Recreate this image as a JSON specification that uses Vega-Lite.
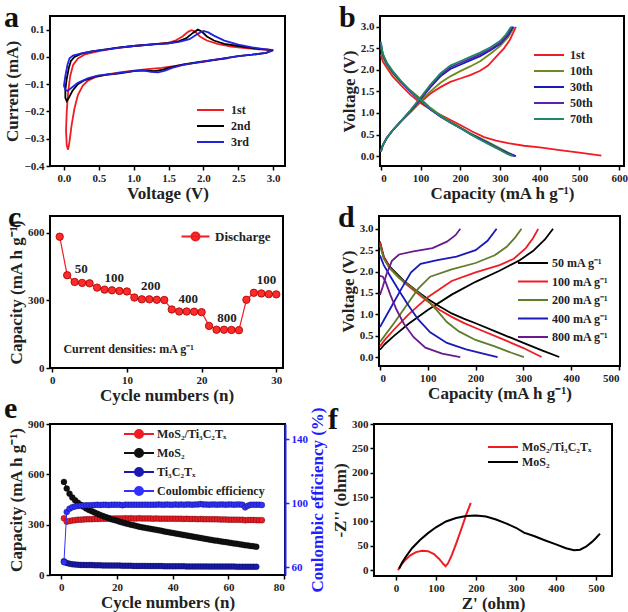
{
"$schema":"https://vega.github.io/schema/vega-lite/v6.json",
"padding":{"left":2,"top":2,"right":0,"bottom":0},
"background":"white",
"config":{
 "view":{"stroke":"black","strokeWidth":2},
 "font":"Liberation Serif",
 "axis":{"grid":false,"domain":false,"labelOverlap":false,"labelFont":"Liberation Serif","labelFontWeight":"bold","labelFontSize":11,"labelColor":"#222","titleFont":"Liberation Serif","titleFontWeight":"bold","titleFontSize":17,"titleColor":"#222","tickColor":"black","tickWidth":1.5,"tickSize":4,"labelPadding":2,"titlePadding":2},
 "legend":{"labelFont":"Liberation Serif","labelFontWeight":"bold","labelFontSize":12,"labelColor":"#222","symbolStrokeWidth":2,"rowPadding":4,"labelOffset":23,"symbolType":"M-1,0L5,0","symbolSize":100},
 "title":{"anchor":"start","frame":"group","baseline":"top","offset":-17,"fontSize":30,"font":"Liberation Serif","fontWeight":"bold","color":"#111"}
},
"resolve":{"scale":{"color":"independent"},"legend":{"color":"independent"}},
"datasets":{
 "a":[
{"s":"1st","i":1,"x":2.35,"y":-0.005},{"s":"1st","i":2,"x":2.2,"y":-0.01},{"s":"1st","i":3,"x":2.0,"y":-0.018},{"s":"1st","i":4,"x":1.8,"y":-0.025},{"s":"1st","i":5,"x":1.6,"y":-0.033},{"s":"1st","i":6,"x":1.4,"y":-0.04},{"s":"1st","i":7,"x":1.2,"y":-0.045},{"s":"1st","i":8,"x":1.0,"y":-0.05},{"s":"1st","i":9,"x":0.8,"y":-0.057},{"s":"1st","i":10,"x":0.6,"y":-0.065},{"s":"1st","i":11,"x":0.45,"y":-0.074},{"s":"1st","i":12,"x":0.35,"y":-0.086},{"s":"1st","i":13,"x":0.27,"y":-0.105},{"s":"1st","i":14,"x":0.2,"y":-0.14},{"s":"1st","i":15,"x":0.15,"y":-0.19},{"s":"1st","i":16,"x":0.11,"y":-0.25},{"s":"1st","i":17,"x":0.08,"y":-0.31},{"s":"1st","i":18,"x":0.06,"y":-0.34},{"s":"1st","i":19,"x":0.04,"y":-0.325},{"s":"1st","i":20,"x":0.03,"y":-0.27},{"s":"1st","i":21,"x":0.04,"y":-0.2},{"s":"1st","i":22,"x":0.06,"y":-0.13},{"s":"1st","i":23,"x":0.09,"y":-0.07},{"s":"1st","i":24,"x":0.13,"y":-0.03},{"s":"1st","i":25,"x":0.2,"y":-0.006},{"s":"1st","i":26,"x":0.3,"y":0.009},{"s":"1st","i":27,"x":0.5,"y":0.021},{"s":"1st","i":28,"x":0.7,"y":0.03},{"s":"1st","i":29,"x":1.0,"y":0.04},{"s":"1st","i":30,"x":1.3,"y":0.047},{"s":"1st","i":31,"x":1.5,"y":0.052},{"s":"1st","i":32,"x":1.6,"y":0.06},{"s":"1st","i":33,"x":1.7,"y":0.075},{"s":"1st","i":34,"x":1.78,"y":0.092},{"s":"1st","i":35,"x":1.83,"y":0.098},{"s":"1st","i":36,"x":1.88,"y":0.093},{"s":"1st","i":37,"x":1.95,"y":0.075},{"s":"1st","i":38,"x":2.05,"y":0.06},{"s":"1st","i":39,"x":2.2,"y":0.048},{"s":"1st","i":40,"x":2.4,"y":0.038},{"s":"1st","i":41,"x":2.6,"y":0.032},{"s":"1st","i":42,"x":2.8,"y":0.028},{"s":"1st","i":43,"x":3.0,"y":0.026},
{"s":"2nd","i":1,"x":3.0,"y":0.025},{"s":"2nd","i":2,"x":2.9,"y":0.015},{"s":"2nd","i":3,"x":2.7,"y":0.008},{"s":"2nd","i":4,"x":2.5,"y":0.003},{"s":"2nd","i":5,"x":2.3,"y":-0.005},{"s":"2nd","i":6,"x":2.1,"y":-0.013},{"s":"2nd","i":7,"x":1.9,"y":-0.02},{"s":"2nd","i":8,"x":1.7,"y":-0.028},{"s":"2nd","i":9,"x":1.5,"y":-0.04},{"s":"2nd","i":10,"x":1.4,"y":-0.048},{"s":"2nd","i":11,"x":1.3,"y":-0.052},{"s":"2nd","i":12,"x":1.2,"y":-0.05},{"s":"2nd","i":13,"x":1.1,"y":-0.05},{"s":"2nd","i":14,"x":1.0,"y":-0.052},{"s":"2nd","i":15,"x":0.8,"y":-0.06},{"s":"2nd","i":16,"x":0.6,"y":-0.066},{"s":"2nd","i":17,"x":0.45,"y":-0.072},{"s":"2nd","i":18,"x":0.3,"y":-0.085},{"s":"2nd","i":19,"x":0.2,"y":-0.1},{"s":"2nd","i":20,"x":0.12,"y":-0.125},{"s":"2nd","i":21,"x":0.07,"y":-0.15},{"s":"2nd","i":22,"x":0.04,"y":-0.162},{"s":"2nd","i":23,"x":0.02,"y":-0.15},{"s":"2nd","i":24,"x":0.02,"y":-0.12},{"s":"2nd","i":25,"x":0.04,"y":-0.08},{"s":"2nd","i":26,"x":0.07,"y":-0.04},{"s":"2nd","i":27,"x":0.1,"y":-0.015},{"s":"2nd","i":28,"x":0.15,"y":0.0},{"s":"2nd","i":29,"x":0.25,"y":0.012},{"s":"2nd","i":30,"x":0.4,"y":0.02},{"s":"2nd","i":31,"x":0.6,"y":0.028},{"s":"2nd","i":32,"x":0.8,"y":0.035},{"s":"2nd","i":33,"x":1.0,"y":0.04},{"s":"2nd","i":34,"x":1.3,"y":0.047},{"s":"2nd","i":35,"x":1.5,"y":0.05},{"s":"2nd","i":36,"x":1.65,"y":0.058},{"s":"2nd","i":37,"x":1.75,"y":0.068},{"s":"2nd","i":38,"x":1.85,"y":0.088},{"s":"2nd","i":39,"x":1.92,"y":0.1},{"s":"2nd","i":40,"x":1.98,"y":0.092},{"s":"2nd","i":41,"x":2.05,"y":0.075},{"s":"2nd","i":42,"x":2.15,"y":0.06},{"s":"2nd","i":43,"x":2.3,"y":0.048},{"s":"2nd","i":44,"x":2.5,"y":0.04},{"s":"2nd","i":45,"x":2.7,"y":0.032},{"s":"2nd","i":46,"x":2.9,"y":0.027},{"s":"2nd","i":47,"x":3.0,"y":0.025},
{"s":"3rd","i":1,"x":3.0,"y":0.025},{"s":"3rd","i":2,"x":2.9,"y":0.015},{"s":"3rd","i":3,"x":2.7,"y":0.008},{"s":"3rd","i":4,"x":2.5,"y":0.003},{"s":"3rd","i":5,"x":2.3,"y":-0.005},{"s":"3rd","i":6,"x":2.1,"y":-0.013},{"s":"3rd","i":7,"x":1.9,"y":-0.021},{"s":"3rd","i":8,"x":1.7,"y":-0.03},{"s":"3rd","i":9,"x":1.55,"y":-0.04},{"s":"3rd","i":10,"x":1.45,"y":-0.05},{"s":"3rd","i":11,"x":1.35,"y":-0.057},{"s":"3rd","i":12,"x":1.25,"y":-0.055},{"s":"3rd","i":13,"x":1.15,"y":-0.05},{"s":"3rd","i":14,"x":1.05,"y":-0.05},{"s":"3rd","i":15,"x":0.9,"y":-0.055},{"s":"3rd","i":16,"x":0.7,"y":-0.062},{"s":"3rd","i":17,"x":0.5,"y":-0.068},{"s":"3rd","i":18,"x":0.35,"y":-0.078},{"s":"3rd","i":19,"x":0.2,"y":-0.095},{"s":"3rd","i":20,"x":0.1,"y":-0.115},{"s":"3rd","i":21,"x":0.05,"y":-0.125},{"s":"3rd","i":22,"x":0.02,"y":-0.12},{"s":"3rd","i":23,"x":0.0,"y":-0.105},{"s":"3rd","i":24,"x":0.02,"y":-0.07},{"s":"3rd","i":25,"x":0.05,"y":-0.03},{"s":"3rd","i":26,"x":0.08,"y":-0.005},{"s":"3rd","i":27,"x":0.13,"y":0.005},{"s":"3rd","i":28,"x":0.25,"y":0.013},{"s":"3rd","i":29,"x":0.4,"y":0.02},{"s":"3rd","i":30,"x":0.6,"y":0.027},{"s":"3rd","i":31,"x":0.8,"y":0.034},{"s":"3rd","i":32,"x":1.0,"y":0.04},{"s":"3rd","i":33,"x":1.3,"y":0.046},{"s":"3rd","i":34,"x":1.5,"y":0.05},{"s":"3rd","i":35,"x":1.65,"y":0.055},{"s":"3rd","i":36,"x":1.8,"y":0.065},{"s":"3rd","i":37,"x":1.92,"y":0.085},{"s":"3rd","i":38,"x":2.0,"y":0.095},{"s":"3rd","i":39,"x":2.07,"y":0.09},{"s":"3rd","i":40,"x":2.15,"y":0.078},{"s":"3rd","i":41,"x":2.3,"y":0.06},{"s":"3rd","i":42,"x":2.5,"y":0.045},{"s":"3rd","i":43,"x":2.7,"y":0.035},{"s":"3rd","i":44,"x":2.9,"y":0.028},{"s":"3rd","i":45,"x":3.0,"y":0.025}
 ],
 "b":[
{"s":"1st","g":"d","i":1,"x":0,"y":2.35},{"s":"1st","g":"d","i":2,"x":5,"y":2.2},{"s":"1st","g":"d","i":3,"x":15,"y":2.05},{"s":"1st","g":"d","i":4,"x":30,"y":1.85},{"s":"1st","g":"d","i":5,"x":50,"y":1.65},{"s":"1st","g":"d","i":6,"x":75,"y":1.42},{"s":"1st","g":"d","i":7,"x":100,"y":1.23},{"s":"1st","g":"d","i":8,"x":130,"y":1.05},{"s":"1st","g":"d","i":9,"x":160,"y":0.91},{"s":"1st","g":"d","i":10,"x":200,"y":0.72},{"s":"1st","g":"d","i":11,"x":230,"y":0.57},{"s":"1st","g":"d","i":12,"x":260,"y":0.44},{"s":"1st","g":"d","i":13,"x":290,"y":0.36},{"s":"1st","g":"d","i":14,"x":320,"y":0.3},{"s":"1st","g":"d","i":15,"x":360,"y":0.24},{"s":"1st","g":"d","i":16,"x":400,"y":0.2},{"s":"1st","g":"d","i":17,"x":450,"y":0.14},{"s":"1st","g":"d","i":18,"x":500,"y":0.08},{"s":"1st","g":"d","i":19,"x":555,"y":0.01},
{"s":"1st","g":"c","i":1,"x":0,"y":0.1},{"s":"1st","g":"c","i":2,"x":5,"y":0.25},{"s":"1st","g":"c","i":3,"x":15,"y":0.42},{"s":"1st","g":"c","i":4,"x":30,"y":0.6},{"s":"1st","g":"c","i":5,"x":50,"y":0.8},{"s":"1st","g":"c","i":6,"x":75,"y":1.02},{"s":"1st","g":"c","i":7,"x":100,"y":1.25},{"s":"1st","g":"c","i":8,"x":125,"y":1.45},{"s":"1st","g":"c","i":9,"x":150,"y":1.6},{"s":"1st","g":"c","i":10,"x":175,"y":1.72},{"s":"1st","g":"c","i":11,"x":200,"y":1.8},{"s":"1st","g":"c","i":12,"x":225,"y":1.88},{"s":"1st","g":"c","i":13,"x":250,"y":1.98},{"s":"1st","g":"c","i":14,"x":270,"y":2.1},{"s":"1st","g":"c","i":15,"x":290,"y":2.3},{"s":"1st","g":"c","i":16,"x":310,"y":2.5},{"s":"1st","g":"c","i":17,"x":325,"y":2.7},{"s":"1st","g":"c","i":18,"x":340,"y":3.0},
{"s":"10th","g":"d","i":1,"x":0,"y":2.55},{"s":"10th","g":"d","i":2,"x":5,"y":2.3},{"s":"10th","g":"d","i":3,"x":15,"y":2.1},{"s":"10th","g":"d","i":4,"x":30,"y":1.92},{"s":"10th","g":"d","i":5,"x":50,"y":1.72},{"s":"10th","g":"d","i":6,"x":75,"y":1.52},{"s":"10th","g":"d","i":7,"x":100,"y":1.33},{"s":"10th","g":"d","i":8,"x":125,"y":1.12},{"s":"10th","g":"d","i":9,"x":150,"y":0.95},{"s":"10th","g":"d","i":10,"x":175,"y":0.8},{"s":"10th","g":"d","i":11,"x":200,"y":0.67},{"s":"10th","g":"d","i":12,"x":225,"y":0.53},{"s":"10th","g":"d","i":13,"x":250,"y":0.42},{"s":"10th","g":"d","i":14,"x":275,"y":0.3},{"s":"10th","g":"d","i":15,"x":300,"y":0.18},{"s":"10th","g":"d","i":16,"x":320,"y":0.08},{"s":"10th","g":"d","i":17,"x":338,"y":0.0},
{"s":"10th","g":"c","i":1,"x":0,"y":0.1},{"s":"10th","g":"c","i":2,"x":5,"y":0.25},{"s":"10th","g":"c","i":3,"x":15,"y":0.42},{"s":"10th","g":"c","i":4,"x":30,"y":0.6},{"s":"10th","g":"c","i":5,"x":50,"y":0.8},{"s":"10th","g":"c","i":6,"x":75,"y":1.03},{"s":"10th","g":"c","i":7,"x":100,"y":1.28},{"s":"10th","g":"c","i":8,"x":125,"y":1.5},{"s":"10th","g":"c","i":9,"x":150,"y":1.7},{"s":"10th","g":"c","i":10,"x":175,"y":1.85},{"s":"10th","g":"c","i":11,"x":200,"y":1.97},{"s":"10th","g":"c","i":12,"x":225,"y":2.08},{"s":"10th","g":"c","i":13,"x":250,"y":2.2},{"s":"10th","g":"c","i":14,"x":275,"y":2.37},{"s":"10th","g":"c","i":15,"x":300,"y":2.55},{"s":"10th","g":"c","i":16,"x":320,"y":2.75},{"s":"10th","g":"c","i":17,"x":336,"y":3.0},
{"s":"30th","g":"d","i":1,"x":0,"y":2.6},{"s":"30th","g":"d","i":2,"x":5,"y":2.35},{"s":"30th","g":"d","i":3,"x":15,"y":2.15},{"s":"30th","g":"d","i":4,"x":30,"y":1.95},{"s":"30th","g":"d","i":5,"x":50,"y":1.73},{"s":"30th","g":"d","i":6,"x":75,"y":1.49},{"s":"30th","g":"d","i":7,"x":100,"y":1.28},{"s":"30th","g":"d","i":8,"x":125,"y":1.08},{"s":"30th","g":"d","i":9,"x":150,"y":0.92},{"s":"30th","g":"d","i":10,"x":175,"y":0.78},{"s":"30th","g":"d","i":11,"x":200,"y":0.65},{"s":"30th","g":"d","i":12,"x":225,"y":0.52},{"s":"30th","g":"d","i":13,"x":250,"y":0.4},{"s":"30th","g":"d","i":14,"x":275,"y":0.28},{"s":"30th","g":"d","i":15,"x":300,"y":0.16},{"s":"30th","g":"d","i":16,"x":320,"y":0.07},{"s":"30th","g":"d","i":17,"x":340,"y":0.0},
{"s":"30th","g":"c","i":1,"x":0,"y":0.1},{"s":"30th","g":"c","i":2,"x":5,"y":0.25},{"s":"30th","g":"c","i":3,"x":15,"y":0.42},{"s":"30th","g":"c","i":4,"x":30,"y":0.6},{"s":"30th","g":"c","i":5,"x":50,"y":0.8},{"s":"30th","g":"c","i":6,"x":75,"y":1.05},{"s":"30th","g":"c","i":7,"x":100,"y":1.32},{"s":"30th","g":"c","i":8,"x":125,"y":1.6},{"s":"30th","g":"c","i":9,"x":150,"y":1.85},{"s":"30th","g":"c","i":10,"x":175,"y":2.02},{"s":"30th","g":"c","i":11,"x":200,"y":2.12},{"s":"30th","g":"c","i":12,"x":225,"y":2.22},{"s":"30th","g":"c","i":13,"x":250,"y":2.32},{"s":"30th","g":"c","i":14,"x":275,"y":2.45},{"s":"30th","g":"c","i":15,"x":300,"y":2.6},{"s":"30th","g":"c","i":16,"x":320,"y":2.8},{"s":"30th","g":"c","i":17,"x":333,"y":3.0},
{"s":"50th","g":"d","i":1,"x":0,"y":2.62},{"s":"50th","g":"d","i":2,"x":5,"y":2.36},{"s":"50th","g":"d","i":3,"x":15,"y":2.16},{"s":"50th","g":"d","i":4,"x":30,"y":1.96},{"s":"50th","g":"d","i":5,"x":50,"y":1.74},{"s":"50th","g":"d","i":6,"x":75,"y":1.5},{"s":"50th","g":"d","i":7,"x":100,"y":1.29},{"s":"50th","g":"d","i":8,"x":125,"y":1.09},{"s":"50th","g":"d","i":9,"x":150,"y":0.92},{"s":"50th","g":"d","i":10,"x":175,"y":0.78},{"s":"50th","g":"d","i":11,"x":200,"y":0.65},{"s":"50th","g":"d","i":12,"x":225,"y":0.52},{"s":"50th","g":"d","i":13,"x":250,"y":0.39},{"s":"50th","g":"d","i":14,"x":275,"y":0.27},{"s":"50th","g":"d","i":15,"x":300,"y":0.15},{"s":"50th","g":"d","i":16,"x":320,"y":0.06},{"s":"50th","g":"d","i":17,"x":337,"y":0.0},
{"s":"50th","g":"c","i":1,"x":0,"y":0.1},{"s":"50th","g":"c","i":2,"x":5,"y":0.25},{"s":"50th","g":"c","i":3,"x":15,"y":0.42},{"s":"50th","g":"c","i":4,"x":30,"y":0.6},{"s":"50th","g":"c","i":5,"x":50,"y":0.8},{"s":"50th","g":"c","i":6,"x":75,"y":1.06},{"s":"50th","g":"c","i":7,"x":100,"y":1.34},{"s":"50th","g":"c","i":8,"x":125,"y":1.63},{"s":"50th","g":"c","i":9,"x":150,"y":1.88},{"s":"50th","g":"c","i":10,"x":175,"y":2.06},{"s":"50th","g":"c","i":11,"x":200,"y":2.16},{"s":"50th","g":"c","i":12,"x":225,"y":2.26},{"s":"50th","g":"c","i":13,"x":250,"y":2.36},{"s":"50th","g":"c","i":14,"x":275,"y":2.48},{"s":"50th","g":"c","i":15,"x":300,"y":2.63},{"s":"50th","g":"c","i":16,"x":318,"y":2.8},{"s":"50th","g":"c","i":17,"x":330,"y":3.0},
{"s":"70th","g":"d","i":1,"x":0,"y":2.65},{"s":"70th","g":"d","i":2,"x":5,"y":2.38},{"s":"70th","g":"d","i":3,"x":15,"y":2.17},{"s":"70th","g":"d","i":4,"x":30,"y":1.97},{"s":"70th","g":"d","i":5,"x":50,"y":1.75},{"s":"70th","g":"d","i":6,"x":75,"y":1.51},{"s":"70th","g":"d","i":7,"x":100,"y":1.3},{"s":"70th","g":"d","i":8,"x":125,"y":1.1},{"s":"70th","g":"d","i":9,"x":150,"y":0.93},{"s":"70th","g":"d","i":10,"x":175,"y":0.78},{"s":"70th","g":"d","i":11,"x":200,"y":0.65},{"s":"70th","g":"d","i":12,"x":225,"y":0.51},{"s":"70th","g":"d","i":13,"x":250,"y":0.38},{"s":"70th","g":"d","i":14,"x":275,"y":0.26},{"s":"70th","g":"d","i":15,"x":300,"y":0.14},{"s":"70th","g":"d","i":16,"x":318,"y":0.05},{"s":"70th","g":"d","i":17,"x":332,"y":0.0},
{"s":"70th","g":"c","i":1,"x":0,"y":0.1},{"s":"70th","g":"c","i":2,"x":5,"y":0.25},{"s":"70th","g":"c","i":3,"x":15,"y":0.42},{"s":"70th","g":"c","i":4,"x":30,"y":0.6},{"s":"70th","g":"c","i":5,"x":50,"y":0.8},{"s":"70th","g":"c","i":6,"x":75,"y":1.07},{"s":"70th","g":"c","i":7,"x":100,"y":1.36},{"s":"70th","g":"c","i":8,"x":125,"y":1.66},{"s":"70th","g":"c","i":9,"x":150,"y":1.92},{"s":"70th","g":"c","i":10,"x":175,"y":2.1},{"s":"70th","g":"c","i":11,"x":200,"y":2.2},{"s":"70th","g":"c","i":12,"x":225,"y":2.3},{"s":"70th","g":"c","i":13,"x":250,"y":2.4},{"s":"70th","g":"c","i":14,"x":275,"y":2.52},{"s":"70th","g":"c","i":15,"x":300,"y":2.67},{"s":"70th","g":"c","i":16,"x":315,"y":2.82},{"s":"70th","g":"c","i":17,"x":328,"y":3.0}
 ],
 "c":[
{"n":1,"y":583},{"n":2,"y":412},{"n":3,"y":382},{"n":4,"y":378},{"n":5,"y":376},{"n":6,"y":357},{"n":7,"y":348},{"n":8,"y":345},{"n":9,"y":342},{"n":10,"y":340},{"n":11,"y":313},{"n":12,"y":305},{"n":13,"y":305},{"n":14,"y":303},{"n":15,"y":302},{"n":16,"y":260},{"n":17,"y":251},{"n":18,"y":251},{"n":19,"y":250},{"n":20,"y":248},{"n":21,"y":187},{"n":22,"y":170},{"n":23,"y":170},{"n":24,"y":169},{"n":25,"y":168},{"n":26,"y":303},{"n":27,"y":334},{"n":28,"y":331},{"n":29,"y":328},{"n":30,"y":327}
 ],
 "cl":[
{"n":3.9,"y":440,"t":"50"},{"n":8.3,"y":400,"t":"100"},{"n":13.2,"y":362,"t":"200"},{"n":18.2,"y":305,"t":"400"},{"n":23.4,"y":222,"t":"800"},{"n":28.7,"y":390,"t":"100"}
 ],
 "cn":[{"n":1.5,"y":84,"t":"Current densities: mA g⁻¹"}],
 "d":[
{"s":"50 mA g⁻¹","g":"d","i":1,"x":0,"y":2.7},{"s":"50 mA g⁻¹","g":"d","i":2,"x":8,"y":2.35},{"s":"50 mA g⁻¹","g":"d","i":3,"x":20,"y":2.12},{"s":"50 mA g⁻¹","g":"d","i":4,"x":50,"y":1.78},{"s":"50 mA g⁻¹","g":"d","i":5,"x":80,"y":1.52},{"s":"50 mA g⁻¹","g":"d","i":6,"x":100,"y":1.36},{"s":"50 mA g⁻¹","g":"d","i":7,"x":125,"y":1.18},{"s":"50 mA g⁻¹","g":"d","i":8,"x":150,"y":1.02},{"s":"50 mA g⁻¹","g":"d","i":9,"x":175,"y":0.9},{"s":"50 mA g⁻¹","g":"d","i":10,"x":200,"y":0.79},{"s":"50 mA g⁻¹","g":"d","i":11,"x":250,"y":0.56},{"s":"50 mA g⁻¹","g":"d","i":12,"x":300,"y":0.33},{"s":"50 mA g⁻¹","g":"d","i":13,"x":340,"y":0.15},{"s":"50 mA g⁻¹","g":"d","i":14,"x":375,"y":0.0},
{"s":"50 mA g⁻¹","g":"c","i":1,"x":0,"y":0.17},{"s":"50 mA g⁻¹","g":"c","i":2,"x":10,"y":0.3},{"s":"50 mA g⁻¹","g":"c","i":3,"x":30,"y":0.5},{"s":"50 mA g⁻¹","g":"c","i":4,"x":60,"y":0.78},{"s":"50 mA g⁻¹","g":"c","i":5,"x":100,"y":1.1},{"s":"50 mA g⁻¹","g":"c","i":6,"x":150,"y":1.46},{"s":"50 mA g⁻¹","g":"c","i":7,"x":200,"y":1.76},{"s":"50 mA g⁻¹","g":"c","i":8,"x":250,"y":2.02},{"s":"50 mA g⁻¹","g":"c","i":9,"x":290,"y":2.25},{"s":"50 mA g⁻¹","g":"c","i":10,"x":320,"y":2.48},{"s":"50 mA g⁻¹","g":"c","i":11,"x":345,"y":2.75},{"s":"50 mA g⁻¹","g":"c","i":12,"x":362,"y":3.0},
{"s":"100 mA g⁻¹","g":"d","i":1,"x":0,"y":2.68},{"s":"100 mA g⁻¹","g":"d","i":2,"x":8,"y":2.33},{"s":"100 mA g⁻¹","g":"d","i":3,"x":20,"y":2.1},{"s":"100 mA g⁻¹","g":"d","i":4,"x":50,"y":1.75},{"s":"100 mA g⁻¹","g":"d","i":5,"x":75,"y":1.52},{"s":"100 mA g⁻¹","g":"d","i":6,"x":100,"y":1.3},{"s":"100 mA g⁻¹","g":"d","i":7,"x":125,"y":1.1},{"s":"100 mA g⁻¹","g":"d","i":8,"x":150,"y":0.94},{"s":"100 mA g⁻¹","g":"d","i":9,"x":175,"y":0.8},{"s":"100 mA g⁻¹","g":"d","i":10,"x":200,"y":0.68},{"s":"100 mA g⁻¹","g":"d","i":11,"x":250,"y":0.45},{"s":"100 mA g⁻¹","g":"d","i":12,"x":300,"y":0.21},{"s":"100 mA g⁻¹","g":"d","i":13,"x":320,"y":0.1},{"s":"100 mA g⁻¹","g":"d","i":14,"x":338,"y":0.0},
{"s":"100 mA g⁻¹","g":"c","i":1,"x":0,"y":0.25},{"s":"100 mA g⁻¹","g":"c","i":2,"x":10,"y":0.4},{"s":"100 mA g⁻¹","g":"c","i":3,"x":30,"y":0.65},{"s":"100 mA g⁻¹","g":"c","i":4,"x":60,"y":1.0},{"s":"100 mA g⁻¹","g":"c","i":5,"x":100,"y":1.4},{"s":"100 mA g⁻¹","g":"c","i":6,"x":150,"y":1.78},{"s":"100 mA g⁻¹","g":"c","i":7,"x":200,"y":1.98},{"s":"100 mA g⁻¹","g":"c","i":8,"x":250,"y":2.15},{"s":"100 mA g⁻¹","g":"c","i":9,"x":280,"y":2.3},{"s":"100 mA g⁻¹","g":"c","i":10,"x":305,"y":2.55},{"s":"100 mA g⁻¹","g":"c","i":11,"x":320,"y":2.78},{"s":"100 mA g⁻¹","g":"c","i":12,"x":331,"y":3.0},
{"s":"200 mA g⁻¹","g":"d","i":1,"x":0,"y":2.62},{"s":"200 mA g⁻¹","g":"d","i":2,"x":8,"y":2.3},{"s":"200 mA g⁻¹","g":"d","i":3,"x":20,"y":2.08},{"s":"200 mA g⁻¹","g":"d","i":4,"x":40,"y":1.85},{"s":"200 mA g⁻¹","g":"d","i":5,"x":70,"y":1.6},{"s":"200 mA g⁻¹","g":"d","i":6,"x":100,"y":1.32},{"s":"200 mA g⁻¹","g":"d","i":7,"x":120,"y":1.08},{"s":"200 mA g⁻¹","g":"d","i":8,"x":140,"y":0.82},{"s":"200 mA g⁻¹","g":"d","i":9,"x":165,"y":0.6},{"s":"200 mA g⁻¹","g":"d","i":10,"x":200,"y":0.4},{"s":"200 mA g⁻¹","g":"d","i":11,"x":240,"y":0.25},{"s":"200 mA g⁻¹","g":"d","i":12,"x":275,"y":0.1},{"s":"200 mA g⁻¹","g":"d","i":13,"x":301,"y":0.0},
{"s":"200 mA g⁻¹","g":"c","i":1,"x":0,"y":0.35},{"s":"200 mA g⁻¹","g":"c","i":2,"x":10,"y":0.5},{"s":"200 mA g⁻¹","g":"c","i":3,"x":30,"y":0.8},{"s":"200 mA g⁻¹","g":"c","i":4,"x":55,"y":1.2},{"s":"200 mA g⁻¹","g":"c","i":5,"x":80,"y":1.6},{"s":"200 mA g⁻¹","g":"c","i":6,"x":105,"y":1.88},{"s":"200 mA g⁻¹","g":"c","i":7,"x":150,"y":2.05},{"s":"200 mA g⁻¹","g":"c","i":8,"x":200,"y":2.2},{"s":"200 mA g⁻¹","g":"c","i":9,"x":240,"y":2.38},{"s":"200 mA g⁻¹","g":"c","i":10,"x":265,"y":2.58},{"s":"200 mA g⁻¹","g":"c","i":11,"x":283,"y":2.8},{"s":"200 mA g⁻¹","g":"c","i":12,"x":296,"y":3.0},
{"s":"400 mA g⁻¹","g":"d","i":1,"x":0,"y":2.38},{"s":"400 mA g⁻¹","g":"d","i":2,"x":8,"y":2.15},{"s":"400 mA g⁻¹","g":"d","i":3,"x":20,"y":1.92},{"s":"400 mA g⁻¹","g":"d","i":4,"x":40,"y":1.55},{"s":"400 mA g⁻¹","g":"d","i":5,"x":60,"y":1.2},{"s":"400 mA g⁻¹","g":"d","i":6,"x":80,"y":0.88},{"s":"400 mA g⁻¹","g":"d","i":7,"x":105,"y":0.58},{"s":"400 mA g⁻¹","g":"d","i":8,"x":140,"y":0.33},{"s":"400 mA g⁻¹","g":"d","i":9,"x":180,"y":0.18},{"s":"400 mA g⁻¹","g":"d","i":10,"x":220,"y":0.07},{"s":"400 mA g⁻¹","g":"d","i":11,"x":246,"y":0.0},
{"s":"400 mA g⁻¹","g":"c","i":1,"x":0,"y":0.7},{"s":"400 mA g⁻¹","g":"c","i":2,"x":10,"y":0.9},{"s":"400 mA g⁻¹","g":"c","i":3,"x":25,"y":1.2},{"s":"400 mA g⁻¹","g":"c","i":4,"x":45,"y":1.6},{"s":"400 mA g⁻¹","g":"c","i":5,"x":65,"y":1.98},{"s":"400 mA g⁻¹","g":"c","i":6,"x":85,"y":2.18},{"s":"400 mA g⁻¹","g":"c","i":7,"x":120,"y":2.27},{"s":"400 mA g⁻¹","g":"c","i":8,"x":160,"y":2.35},{"s":"400 mA g⁻¹","g":"c","i":9,"x":200,"y":2.5},{"s":"400 mA g⁻¹","g":"c","i":10,"x":225,"y":2.72},{"s":"400 mA g⁻¹","g":"c","i":11,"x":244,"y":3.0},
{"s":"800 mA g⁻¹","g":"d","i":1,"x":0,"y":1.9},{"s":"800 mA g⁻¹","g":"d","i":2,"x":6,"y":1.88},{"s":"800 mA g⁻¹","g":"d","i":3,"x":12,"y":1.75},{"s":"800 mA g⁻¹","g":"d","i":4,"x":22,"y":1.45},{"s":"800 mA g⁻¹","g":"d","i":5,"x":35,"y":1.1},{"s":"800 mA g⁻¹","g":"d","i":6,"x":50,"y":0.78},{"s":"800 mA g⁻¹","g":"d","i":7,"x":70,"y":0.47},{"s":"800 mA g⁻¹","g":"d","i":8,"x":95,"y":0.22},{"s":"800 mA g⁻¹","g":"d","i":9,"x":130,"y":0.08},{"s":"800 mA g⁻¹","g":"d","i":10,"x":168,"y":0.0},
{"s":"800 mA g⁻¹","g":"c","i":1,"x":0,"y":1.45},{"s":"800 mA g⁻¹","g":"c","i":2,"x":6,"y":1.65},{"s":"800 mA g⁻¹","g":"c","i":3,"x":14,"y":1.95},{"s":"800 mA g⁻¹","g":"c","i":4,"x":25,"y":2.25},{"s":"800 mA g⁻¹","g":"c","i":5,"x":40,"y":2.4},{"s":"800 mA g⁻¹","g":"c","i":6,"x":70,"y":2.47},{"s":"800 mA g⁻¹","g":"c","i":7,"x":110,"y":2.55},{"s":"800 mA g⁻¹","g":"c","i":8,"x":140,"y":2.7},{"s":"800 mA g⁻¹","g":"c","i":9,"x":158,"y":2.85},{"s":"800 mA g⁻¹","g":"c","i":10,"x":168,"y":3.0}
 ],
 "e":[
{"s":"MoS₂/Ti₃C₂Tₓ","n":1,"y":338},{"s":"MoS₂/Ti₃C₂Tₓ","n":2,"y":318},{"s":"MoS₂/Ti₃C₂Tₓ","n":3,"y":322},{"s":"MoS₂/Ti₃C₂Tₓ","n":4,"y":325},{"s":"MoS₂/Ti₃C₂Tₓ","n":5,"y":327},{"s":"MoS₂/Ti₃C₂Tₓ","n":6,"y":329},{"s":"MoS₂/Ti₃C₂Tₓ","n":7,"y":330},{"s":"MoS₂/Ti₃C₂Tₓ","n":8,"y":331},{"s":"MoS₂/Ti₃C₂Tₓ","n":9,"y":332},{"s":"MoS₂/Ti₃C₂Tₓ","n":10,"y":333},{"s":"MoS₂/Ti₃C₂Tₓ","n":11,"y":333},{"s":"MoS₂/Ti₃C₂Tₓ","n":12,"y":334},{"s":"MoS₂/Ti₃C₂Tₓ","n":13,"y":334},{"s":"MoS₂/Ti₃C₂Tₓ","n":14,"y":335},{"s":"MoS₂/Ti₃C₂Tₓ","n":15,"y":335},{"s":"MoS₂/Ti₃C₂Tₓ","n":16,"y":336},{"s":"MoS₂/Ti₃C₂Tₓ","n":17,"y":336},{"s":"MoS₂/Ti₃C₂Tₓ","n":18,"y":336},{"s":"MoS₂/Ti₃C₂Tₓ","n":19,"y":337},{"s":"MoS₂/Ti₃C₂Tₓ","n":20,"y":337},{"s":"MoS₂/Ti₃C₂Tₓ","n":21,"y":337},{"s":"MoS₂/Ti₃C₂Tₓ","n":22,"y":337},{"s":"MoS₂/Ti₃C₂Tₓ","n":23,"y":338},{"s":"MoS₂/Ti₃C₂Tₓ","n":24,"y":337},{"s":"MoS₂/Ti₃C₂Tₓ","n":25,"y":338},{"s":"MoS₂/Ti₃C₂Tₓ","n":26,"y":337},{"s":"MoS₂/Ti₃C₂Tₓ","n":27,"y":337},{"s":"MoS₂/Ti₃C₂Tₓ","n":28,"y":338},{"s":"MoS₂/Ti₃C₂Tₓ","n":29,"y":337},{"s":"MoS₂/Ti₃C₂Tₓ","n":30,"y":337},{"s":"MoS₂/Ti₃C₂Tₓ","n":31,"y":337},{"s":"MoS₂/Ti₃C₂Tₓ","n":32,"y":337},{"s":"MoS₂/Ti₃C₂Tₓ","n":33,"y":336},{"s":"MoS₂/Ti₃C₂Tₓ","n":34,"y":337},{"s":"MoS₂/Ti₃C₂Tₓ","n":35,"y":336},{"s":"MoS₂/Ti₃C₂Tₓ","n":36,"y":336},{"s":"MoS₂/Ti₃C₂Tₓ","n":37,"y":336},{"s":"MoS₂/Ti₃C₂Tₓ","n":38,"y":336},{"s":"MoS₂/Ti₃C₂Tₓ","n":39,"y":335},{"s":"MoS₂/Ti₃C₂Tₓ","n":40,"y":336},{"s":"MoS₂/Ti₃C₂Tₓ","n":41,"y":335},{"s":"MoS₂/Ti₃C₂Tₓ","n":42,"y":335},{"s":"MoS₂/Ti₃C₂Tₓ","n":43,"y":335},{"s":"MoS₂/Ti₃C₂Tₓ","n":44,"y":334},{"s":"MoS₂/Ti₃C₂Tₓ","n":45,"y":335},{"s":"MoS₂/Ti₃C₂Tₓ","n":46,"y":334},{"s":"MoS₂/Ti₃C₂Tₓ","n":47,"y":334},{"s":"MoS₂/Ti₃C₂Tₓ","n":48,"y":334},{"s":"MoS₂/Ti₃C₂Tₓ","n":49,"y":333},{"s":"MoS₂/Ti₃C₂Tₓ","n":50,"y":334},{"s":"MoS₂/Ti₃C₂Tₓ","n":51,"y":333},{"s":"MoS₂/Ti₃C₂Tₓ","n":52,"y":333},{"s":"MoS₂/Ti₃C₂Tₓ","n":53,"y":333},{"s":"MoS₂/Ti₃C₂Tₓ","n":54,"y":332},{"s":"MoS₂/Ti₃C₂Tₓ","n":55,"y":332},{"s":"MoS₂/Ti₃C₂Tₓ","n":56,"y":332},{"s":"MoS₂/Ti₃C₂Tₓ","n":57,"y":331},{"s":"MoS₂/Ti₃C₂Tₓ","n":58,"y":331},{"s":"MoS₂/Ti₃C₂Tₓ","n":59,"y":331},{"s":"MoS₂/Ti₃C₂Tₓ","n":60,"y":330},{"s":"MoS₂/Ti₃C₂Tₓ","n":61,"y":330},{"s":"MoS₂/Ti₃C₂Tₓ","n":62,"y":330},{"s":"MoS₂/Ti₃C₂Tₓ","n":63,"y":329},{"s":"MoS₂/Ti₃C₂Tₓ","n":64,"y":329},{"s":"MoS₂/Ti₃C₂Tₓ","n":65,"y":329},{"s":"MoS₂/Ti₃C₂Tₓ","n":66,"y":326},{"s":"MoS₂/Ti₃C₂Tₓ","n":67,"y":328},{"s":"MoS₂/Ti₃C₂Tₓ","n":68,"y":328},{"s":"MoS₂/Ti₃C₂Tₓ","n":69,"y":328},{"s":"MoS₂/Ti₃C₂Tₓ","n":70,"y":327},{"s":"MoS₂/Ti₃C₂Tₓ","n":71,"y":327},{"s":"MoS₂/Ti₃C₂Tₓ","n":72,"y":327},
{"s":"MoS₂","n":1,"y":555},{"s":"MoS₂","n":2,"y":515},{"s":"MoS₂","n":3,"y":485},{"s":"MoS₂","n":4,"y":462},{"s":"MoS₂","n":5,"y":445},{"s":"MoS₂","n":6,"y":431},{"s":"MoS₂","n":7,"y":418},{"s":"MoS₂","n":8,"y":407},{"s":"MoS₂","n":9,"y":397},{"s":"MoS₂","n":10,"y":388},{"s":"MoS₂","n":11,"y":380},{"s":"MoS₂","n":12,"y":372},{"s":"MoS₂","n":13,"y":365},{"s":"MoS₂","n":14,"y":358},{"s":"MoS₂","n":15,"y":351},{"s":"MoS₂","n":16,"y":345},{"s":"MoS₂","n":17,"y":339},{"s":"MoS₂","n":18,"y":333},{"s":"MoS₂","n":19,"y":328},{"s":"MoS₂","n":20,"y":323},{"s":"MoS₂","n":21,"y":318},{"s":"MoS₂","n":22,"y":313},{"s":"MoS₂","n":23,"y":308},{"s":"MoS₂","n":24,"y":304},{"s":"MoS₂","n":25,"y":300},{"s":"MoS₂","n":26,"y":296},{"s":"MoS₂","n":27,"y":292},{"s":"MoS₂","n":28,"y":288},{"s":"MoS₂","n":29,"y":284},{"s":"MoS₂","n":30,"y":281},{"s":"MoS₂","n":31,"y":278},{"s":"MoS₂","n":32,"y":275},{"s":"MoS₂","n":33,"y":272},{"s":"MoS₂","n":34,"y":269},{"s":"MoS₂","n":35,"y":266},{"s":"MoS₂","n":36,"y":263},{"s":"MoS₂","n":37,"y":260},{"s":"MoS₂","n":38,"y":257},{"s":"MoS₂","n":39,"y":254},{"s":"MoS₂","n":40,"y":251},{"s":"MoS₂","n":41,"y":248},{"s":"MoS₂","n":42,"y":245},{"s":"MoS₂","n":43,"y":242},{"s":"MoS₂","n":44,"y":239},{"s":"MoS₂","n":45,"y":236},{"s":"MoS₂","n":46,"y":233},{"s":"MoS₂","n":47,"y":230},{"s":"MoS₂","n":48,"y":227},{"s":"MoS₂","n":49,"y":224},{"s":"MoS₂","n":50,"y":221},{"s":"MoS₂","n":51,"y":218},{"s":"MoS₂","n":52,"y":215},{"s":"MoS₂","n":53,"y":212},{"s":"MoS₂","n":54,"y":209},{"s":"MoS₂","n":55,"y":206},{"s":"MoS₂","n":56,"y":204},{"s":"MoS₂","n":57,"y":201},{"s":"MoS₂","n":58,"y":198},{"s":"MoS₂","n":59,"y":196},{"s":"MoS₂","n":60,"y":193},{"s":"MoS₂","n":61,"y":191},{"s":"MoS₂","n":62,"y":188},{"s":"MoS₂","n":63,"y":186},{"s":"MoS₂","n":64,"y":183},{"s":"MoS₂","n":65,"y":181},{"s":"MoS₂","n":66,"y":178},{"s":"MoS₂","n":67,"y":176},{"s":"MoS₂","n":68,"y":173},{"s":"MoS₂","n":69,"y":171},{"s":"MoS₂","n":70,"y":168},
{"s":"Ti₃C₂Tₓ","n":1,"y":82},{"s":"Ti₃C₂Tₓ","n":2,"y":72},{"s":"Ti₃C₂Tₓ","n":3,"y":67},{"s":"Ti₃C₂Tₓ","n":4,"y":64},{"s":"Ti₃C₂Tₓ","n":5,"y":62},{"s":"Ti₃C₂Tₓ","n":6,"y":61},{"s":"Ti₃C₂Tₓ","n":7,"y":60},{"s":"Ti₃C₂Tₓ","n":8,"y":60},{"s":"Ti₃C₂Tₓ","n":9,"y":59},{"s":"Ti₃C₂Tₓ","n":10,"y":59},{"s":"Ti₃C₂Tₓ","n":11,"y":59},{"s":"Ti₃C₂Tₓ","n":12,"y":58},{"s":"Ti₃C₂Tₓ","n":13,"y":58},{"s":"Ti₃C₂Tₓ","n":14,"y":58},{"s":"Ti₃C₂Tₓ","n":15,"y":57},{"s":"Ti₃C₂Tₓ","n":16,"y":57},{"s":"Ti₃C₂Tₓ","n":17,"y":57},{"s":"Ti₃C₂Tₓ","n":18,"y":56},{"s":"Ti₃C₂Tₓ","n":19,"y":56},{"s":"Ti₃C₂Tₓ","n":20,"y":56},{"s":"Ti₃C₂Tₓ","n":21,"y":56},{"s":"Ti₃C₂Tₓ","n":22,"y":55},{"s":"Ti₃C₂Tₓ","n":23,"y":55},{"s":"Ti₃C₂Tₓ","n":24,"y":55},{"s":"Ti₃C₂Tₓ","n":25,"y":55},{"s":"Ti₃C₂Tₓ","n":26,"y":54},{"s":"Ti₃C₂Tₓ","n":27,"y":54},{"s":"Ti₃C₂Tₓ","n":28,"y":54},{"s":"Ti₃C₂Tₓ","n":29,"y":54},{"s":"Ti₃C₂Tₓ","n":30,"y":54},{"s":"Ti₃C₂Tₓ","n":31,"y":53},{"s":"Ti₃C₂Tₓ","n":32,"y":53},{"s":"Ti₃C₂Tₓ","n":33,"y":53},{"s":"Ti₃C₂Tₓ","n":34,"y":53},{"s":"Ti₃C₂Tₓ","n":35,"y":53},{"s":"Ti₃C₂Tₓ","n":36,"y":53},{"s":"Ti₃C₂Tₓ","n":37,"y":52},{"s":"Ti₃C₂Tₓ","n":38,"y":52},{"s":"Ti₃C₂Tₓ","n":39,"y":52},{"s":"Ti₃C₂Tₓ","n":40,"y":52},{"s":"Ti₃C₂Tₓ","n":41,"y":52},{"s":"Ti₃C₂Tₓ","n":42,"y":52},{"s":"Ti₃C₂Tₓ","n":43,"y":52},{"s":"Ti₃C₂Tₓ","n":44,"y":52},{"s":"Ti₃C₂Tₓ","n":45,"y":51},{"s":"Ti₃C₂Tₓ","n":46,"y":51},{"s":"Ti₃C₂Tₓ","n":47,"y":51},{"s":"Ti₃C₂Tₓ","n":48,"y":51},{"s":"Ti₃C₂Tₓ","n":49,"y":51},{"s":"Ti₃C₂Tₓ","n":50,"y":51},{"s":"Ti₃C₂Tₓ","n":51,"y":51},{"s":"Ti₃C₂Tₓ","n":52,"y":51},{"s":"Ti₃C₂Tₓ","n":53,"y":50},{"s":"Ti₃C₂Tₓ","n":54,"y":50},{"s":"Ti₃C₂Tₓ","n":55,"y":50},{"s":"Ti₃C₂Tₓ","n":56,"y":50},{"s":"Ti₃C₂Tₓ","n":57,"y":50},{"s":"Ti₃C₂Tₓ","n":58,"y":50},{"s":"Ti₃C₂Tₓ","n":59,"y":50},{"s":"Ti₃C₂Tₓ","n":60,"y":50},{"s":"Ti₃C₂Tₓ","n":61,"y":50},{"s":"Ti₃C₂Tₓ","n":62,"y":50},{"s":"Ti₃C₂Tₓ","n":63,"y":49},{"s":"Ti₃C₂Tₓ","n":64,"y":49},{"s":"Ti₃C₂Tₓ","n":65,"y":49},{"s":"Ti₃C₂Tₓ","n":66,"y":49},{"s":"Ti₃C₂Tₓ","n":67,"y":49},{"s":"Ti₃C₂Tₓ","n":68,"y":49},{"s":"Ti₃C₂Tₓ","n":69,"y":49},{"s":"Ti₃C₂Tₓ","n":70,"y":49}
 ],
 "ce":[
{"s":"Coulombic efficiency","n":1,"ce":63},{"s":"Coulombic efficiency","n":2,"ce":94.5},{"s":"Coulombic efficiency","n":3,"ce":96.5},{"s":"Coulombic efficiency","n":4,"ce":97.4},{"s":"Coulombic efficiency","n":5,"ce":97.9},{"s":"Coulombic efficiency","n":6,"ce":98.2},{"s":"Coulombic efficiency","n":7,"ce":98.4},{"s":"Coulombic efficiency","n":8,"ce":98.5},{"s":"Coulombic efficiency","n":9,"ce":98.6},{"s":"Coulombic efficiency","n":10,"ce":98.7},{"s":"Coulombic efficiency","n":11,"ce":98.7},{"s":"Coulombic efficiency","n":12,"ce":98.8},{"s":"Coulombic efficiency","n":13,"ce":98.9},{"s":"Coulombic efficiency","n":14,"ce":98.8},{"s":"Coulombic efficiency","n":15,"ce":98.9},{"s":"Coulombic efficiency","n":16,"ce":98.9},{"s":"Coulombic efficiency","n":17,"ce":98.8},{"s":"Coulombic efficiency","n":18,"ce":98.9},{"s":"Coulombic efficiency","n":19,"ce":99.0},{"s":"Coulombic efficiency","n":20,"ce":98.9},{"s":"Coulombic efficiency","n":21,"ce":98.9},{"s":"Coulombic efficiency","n":22,"ce":98.7},{"s":"Coulombic efficiency","n":23,"ce":99.0},{"s":"Coulombic efficiency","n":24,"ce":99.0},{"s":"Coulombic efficiency","n":25,"ce":98.9},{"s":"Coulombic efficiency","n":26,"ce":99.0},{"s":"Coulombic efficiency","n":27,"ce":99.0},{"s":"Coulombic efficiency","n":28,"ce":98.9},{"s":"Coulombic efficiency","n":29,"ce":99.0},{"s":"Coulombic efficiency","n":30,"ce":99.0},{"s":"Coulombic efficiency","n":31,"ce":99.0},{"s":"Coulombic efficiency","n":32,"ce":98.9},{"s":"Coulombic efficiency","n":33,"ce":99.0},{"s":"Coulombic efficiency","n":34,"ce":99.0},{"s":"Coulombic efficiency","n":35,"ce":99.1},{"s":"Coulombic efficiency","n":36,"ce":99.0},{"s":"Coulombic efficiency","n":37,"ce":99.0},{"s":"Coulombic efficiency","n":38,"ce":99.1},{"s":"Coulombic efficiency","n":39,"ce":99.0},{"s":"Coulombic efficiency","n":40,"ce":99.0},{"s":"Coulombic efficiency","n":41,"ce":99.1},{"s":"Coulombic efficiency","n":42,"ce":99.0},{"s":"Coulombic efficiency","n":43,"ce":99.1},{"s":"Coulombic efficiency","n":44,"ce":99.0},{"s":"Coulombic efficiency","n":45,"ce":99.1},{"s":"Coulombic efficiency","n":46,"ce":99.1},{"s":"Coulombic efficiency","n":47,"ce":99.0},{"s":"Coulombic efficiency","n":48,"ce":99.1},{"s":"Coulombic efficiency","n":49,"ce":99.1},{"s":"Coulombic efficiency","n":50,"ce":99.4},{"s":"Coulombic efficiency","n":51,"ce":99.1},{"s":"Coulombic efficiency","n":52,"ce":99.1},{"s":"Coulombic efficiency","n":53,"ce":99.0},{"s":"Coulombic efficiency","n":54,"ce":99.1},{"s":"Coulombic efficiency","n":55,"ce":99.1},{"s":"Coulombic efficiency","n":56,"ce":99.0},{"s":"Coulombic efficiency","n":57,"ce":99.1},{"s":"Coulombic efficiency","n":58,"ce":99.1},{"s":"Coulombic efficiency","n":59,"ce":99.0},{"s":"Coulombic efficiency","n":60,"ce":99.1},{"s":"Coulombic efficiency","n":61,"ce":99.1},{"s":"Coulombic efficiency","n":62,"ce":99.0},{"s":"Coulombic efficiency","n":63,"ce":99.1},{"s":"Coulombic efficiency","n":64,"ce":99.1},{"s":"Coulombic efficiency","n":65,"ce":98.9},{"s":"Coulombic efficiency","n":66,"ce":97.3},{"s":"Coulombic efficiency","n":67,"ce":98.4},{"s":"Coulombic efficiency","n":68,"ce":98.9},{"s":"Coulombic efficiency","n":69,"ce":99.0},{"s":"Coulombic efficiency","n":70,"ce":99.0},{"s":"Coulombic efficiency","n":71,"ce":99.0},{"s":"Coulombic efficiency","n":72,"ce":98.8}
 ],
 "f":[
{"s":"MoS₂/Ti₃C₂Tₓ","i":1,"x":5,"y":0},{"s":"MoS₂/Ti₃C₂Tₓ","i":2,"x":12,"y":10},{"s":"MoS₂/Ti₃C₂Tₓ","i":3,"x":22,"y":20},{"s":"MoS₂/Ti₃C₂Tₓ","i":4,"x":35,"y":30},{"s":"MoS₂/Ti₃C₂Tₓ","i":5,"x":50,"y":37},{"s":"MoS₂/Ti₃C₂Tₓ","i":6,"x":65,"y":40},{"s":"MoS₂/Ti₃C₂Tₓ","i":7,"x":80,"y":39},{"s":"MoS₂/Ti₃C₂Tₓ","i":8,"x":95,"y":33},{"s":"MoS₂/Ti₃C₂Tₓ","i":9,"x":108,"y":23},{"s":"MoS₂/Ti₃C₂Tₓ","i":10,"x":118,"y":13},{"s":"MoS₂/Ti₃C₂Tₓ","i":11,"x":124,"y":8},{"s":"MoS₂/Ti₃C₂Tₓ","i":12,"x":130,"y":14},{"s":"MoS₂/Ti₃C₂Tₓ","i":13,"x":140,"y":32},{"s":"MoS₂/Ti₃C₂Tₓ","i":14,"x":152,"y":58},{"s":"MoS₂/Ti₃C₂Tₓ","i":15,"x":164,"y":86},{"s":"MoS₂/Ti₃C₂Tₓ","i":16,"x":176,"y":115},{"s":"MoS₂/Ti₃C₂Tₓ","i":17,"x":187,"y":138},
{"s":"MoS₂","i":1,"x":8,"y":3},{"s":"MoS₂","i":2,"x":15,"y":15},{"s":"MoS₂","i":3,"x":25,"y":28},{"s":"MoS₂","i":4,"x":40,"y":45},{"s":"MoS₂","i":5,"x":60,"y":62},{"s":"MoS₂","i":6,"x":80,"y":76},{"s":"MoS₂","i":7,"x":100,"y":88},{"s":"MoS₂","i":8,"x":125,"y":100},{"s":"MoS₂","i":9,"x":150,"y":107},{"s":"MoS₂","i":10,"x":175,"y":111},{"s":"MoS₂","i":11,"x":200,"y":112},{"s":"MoS₂","i":12,"x":225,"y":110},{"s":"MoS₂","i":13,"x":250,"y":104},{"s":"MoS₂","i":14,"x":275,"y":96},{"s":"MoS₂","i":15,"x":300,"y":87},{"s":"MoS₂","i":16,"x":320,"y":77},{"s":"MoS₂","i":17,"x":345,"y":70},{"s":"MoS₂","i":18,"x":370,"y":62},{"s":"MoS₂","i":19,"x":400,"y":53},{"s":"MoS₂","i":20,"x":425,"y":45},{"s":"MoS₂","i":21,"x":445,"y":41},{"s":"MoS₂","i":22,"x":460,"y":42},{"s":"MoS₂","i":23,"x":475,"y":48},{"s":"MoS₂","i":24,"x":490,"y":58},{"s":"MoS₂","i":25,"x":500,"y":66},{"s":"MoS₂","i":26,"x":510,"y":75}
 ]
},
"vconcat":[
 {"vconcat":[
 {"hconcat":[
  {"width":235,"height":150,"title":{"text":"a","dx":-46},
   "data":{"name":"a"},"mark":{"type":"line","strokeWidth":1.8},
   "encoding":{
    "x":{"field":"x","type":"quantitative","scale":{"domain":[-0.2,3.17],"nice":false,"zero":false},"axis":{"title":"Voltage (V)","values":[0,0.5,1,1.5,2,2.5,3],"format":".1f"}},
    "y":{"field":"y","type":"quantitative","scale":{"domain":[-0.4,0.15],"nice":false,"zero":false},"axis":{"title":"Current (mA)","values":[-0.4,-0.3,-0.2,-0.1,0,0.1],"format":".1f"}},
    "order":{"field":"i","type":"quantitative"},
    "color":{"field":"s","type":"nominal","scale":{"domain":["1st","2nd","3rd"],"range":["#f01c24","#000000","#2222dd"]},"legend":{"title":null,"orient":"none","legendX":146,"legendY":88,"symbolType":"M-1,0L4.4,0","labelOffset":23}}
   }},
  {"width":244,"height":150,"title":{"text":"b","dx":-41},
   "data":{"name":"b"},"mark":{"type":"line","strokeWidth":1.8},
   "encoding":{
    "x":{"field":"x","type":"quantitative","scale":{"domain":[-2,612],"nice":false,"zero":false},"axis":{"title":"Capacity (mA h g⁻¹)","values":[0,100,200,300,400,500,600]}},
    "y":{"field":"y","type":"quantitative","scale":{"domain":[-0.23,3.25],"nice":false,"zero":false},"axis":{"title":"Voltage (V)","values":[0,0.5,1,1.5,2,2.5,3],"format":".1f"}},
    "order":{"field":"i","type":"quantitative"},
    "detail":{"field":"g"},
    "color":{"field":"s","type":"nominal","scale":{"domain":["1st","10th","30th","50th","70th"],"range":["#f01c24","#6f8a1e","#1a1ab8","#5a22b0","#1f8a62"]},"legend":{"title":null,"orient":"none","legendX":153,"legendY":33,"labelOffset":25}}
   }}
 ],"spacing":52,"resolve":{"scale":{"color":"independent"},"legend":{"color":"independent"}}},
 {"hconcat":[
  {"width":233,"height":152,"title":{"text":"c","dx":-42},
   "layer":[
    {"data":{"name":"c"},"mark":{"type":"line","strokeWidth":1.2,"color":"#f01c24"},
     "encoding":{"x":{"field":"n","type":"quantitative","scale":{"domain":[-0.3,30.9],"nice":false,"zero":false},"axis":{"title":"Cycle numbers (n)","values":[0,5,10,15,20,25,30]}},
      "y":{"field":"y","type":"quantitative","scale":{"domain":[0,675],"nice":false},"axis":{"title":"Capacity (mA h g⁻¹)","values":[0,150,300,450,600]}}}},
    {"data":{"name":"c"},"mark":{"type":"point","filled":true,"size":55,"stroke":"#a00000","strokeWidth":0.8,"opacity":1},
     "encoding":{"x":{"field":"n","type":"quantitative"},"y":{"field":"y","type":"quantitative"},
      "color":{"datum":"Discharge","type":"nominal","scale":{"range":["#ff2a2a"]},"legend":{"title":null,"orient":"none","legendX":130,"legendY":14,"symbolType":"M-1,0L4.6,0M2.6,0A0.8,0.8,0,1,1,1,0A0.8,0.8,0,1,1,2.6,0","symbolStrokeColor":"#f01c24","labelOffset":22,"labelFontSize":13}}}},
    {"data":{"name":"cl"},"mark":{"type":"text","font":"Liberation Serif","fontWeight":"bold","fontSize":13,"color":"#222"},
     "encoding":{"x":{"field":"n","type":"quantitative"},"y":{"field":"y","type":"quantitative"},"text":{"field":"t"}}},
    {"data":{"name":"cn"},"mark":{"type":"text","align":"left","font":"Liberation Serif","fontWeight":"bold","fontSize":12,"color":"#222"},
     "encoding":{"x":{"field":"n","type":"quantitative"},"y":{"field":"y","type":"quantitative"},"text":{"field":"t"}}}
   ]},
  {"width":241,"height":150,"title":{"text":"d","dx":-41},
   "data":{"name":"d"},"mark":{"type":"line","strokeWidth":1.8},
   "encoding":{
    "x":{"field":"x","type":"quantitative","scale":{"domain":[-2,502],"nice":false,"zero":false},"axis":{"title":"Capacity (mA h g⁻¹)","values":[0,100,200,300,400,500]}},
    "y":{"field":"y","type":"quantitative","scale":{"domain":[-0.21,3.3],"nice":false,"zero":false},"axis":{"title":"Voltage (V)","values":[0,0.5,1,1.5,2,2.5,3],"format":".1f"}},
    "order":{"field":"i","type":"quantitative"},
    "detail":{"field":"g"},
    "color":{"field":"s","type":"nominal","scale":{"domain":["50 mA g⁻¹","100 mA g⁻¹","200 mA g⁻¹","400 mA g⁻¹","800 mA g⁻¹"],"range":["#000000","#f01c24","#5e7d2a","#1a1ab8","#6a1a8e"]},"legend":{"title":null,"orient":"none","legendX":138,"legendY":41,"rowPadding":6.5,"labelOffset":23}}
   }}
 ],"spacing":53,"resolve":{"scale":{"color":"independent"},"legend":{"color":"independent"}}}
 ],"spacing":0,"resolve":{"scale":{"color":"independent"},"legend":{"color":"independent"}}},
 {"hconcat":[
  {"width":235,"height":151,"title":{"text":"e","dx":-46},
   "layer":[
    {"layer":[
     {"data":{"name":"e"},"mark":{"type":"line","strokeWidth":1},
      "encoding":{"x":{"field":"n","type":"quantitative","scale":{"domain":[-4,80.3],"nice":false,"zero":false},"axis":{"title":"Cycle numbers (n)","values":[0,10,20,30,40,50,60,70,80]}},
       "y":{"field":"y","type":"quantitative","scale":{"domain":[0,900],"nice":false},"axis":{"title":"Capacity (mA h g⁻¹)","values":[0,150,300,450,600,750,900]}},
       "color":{"field":"s","type":"nominal","scale":{"domain":["MoS₂/Ti₃C₂Tₓ","MoS₂","Ti₃C₂Tₓ","Coulombic efficiency"],"range":["#f01c24","#111111","#1a1ab0","#3030ff"]},"legend":{"title":null,"orient":"none","legendX":73,"legendY":4,"rowPadding":3,"symbolType":"M-1,0L5,0M2.8,0A0.8,0.8,0,1,1,1.2,0A0.8,0.8,0,1,1,2.8,0","labelOffset":22}}}},
     {"data":{"name":"e"},"mark":{"type":"point","filled":true,"size":36,"stroke":"#000","strokeOpacity":0.5,"strokeWidth":0.6,"opacity":1},
      "encoding":{"x":{"field":"n","type":"quantitative"},"y":{"field":"y","type":"quantitative"},"color":{"field":"s","type":"nominal"}}}
    ]},
    {"layer":[
     {"data":{"name":"ce"},"mark":{"type":"line","strokeWidth":1},
      "encoding":{"x":{"field":"n","type":"quantitative"},
       "y":{"field":"ce","type":"quantitative","scale":{"domain":[55,149.5],"nice":false,"zero":false},"axis":{"orient":"right","title":"Coulombic efficiency (%)","titleAngle":270,"titleBaseline":"top","values":[60,80,100,120,140],"labelColor":"#2020ff","titleColor":"#2020ff","tickColor":"#2020ff","domain":true,"domainColor":"#2020ff","domainWidth":2}},
       "color":{"field":"s","type":"nominal"}}},
     {"data":{"name":"ce"},"mark":{"type":"point","filled":true,"size":36,"stroke":"#000","strokeOpacity":0.5,"strokeWidth":0.6,"opacity":1},
      "encoding":{"x":{"field":"n","type":"quantitative"},"y":{"field":"ce","type":"quantitative"},"color":{"field":"s","type":"nominal"}}}
    ]}
   ],
   "resolve":{"scale":{"y":"independent"}}},
  {"width":238,"height":152,"title":{"text":"f","dx":-46},
   "data":{"name":"f"},"mark":{"type":"line","strokeWidth":2},
   "encoding":{
    "x":{"field":"x","type":"quantitative","scale":{"domain":[-55,540],"nice":false,"zero":false},"axis":{"title":"Z' (ohm)","values":[0,100,200,300,400,500]}},
    "y":{"field":"y","type":"quantitative","scale":{"domain":[-12,300],"nice":false,"zero":false},"axis":{"title":"-Z'' (ohm)","values":[0,50,100,150,200,250,300]}},
    "order":{"field":"i","type":"quantitative"},
    "color":{"field":"s","type":"nominal","scale":{"domain":["MoS₂/Ti₃C₂Tₓ","MoS₂"],"range":["#f01c24","#000000"]},"legend":{"title":null,"orient":"none","legendX":113,"legendY":17,"rowPadding":3,"labelOffset":23}}
   }}
 ],"spacing":0,"resolve":{"scale":{"color":"independent"},"legend":{"color":"independent"}}}
],
"spacing":-12
}
